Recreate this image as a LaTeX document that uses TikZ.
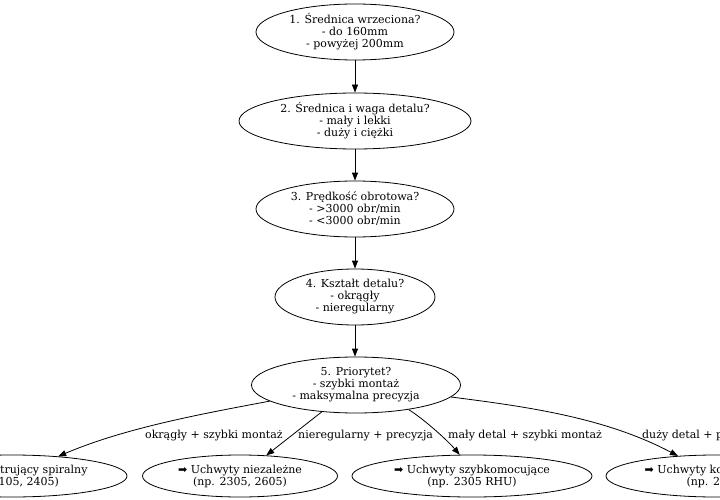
\documentclass[tikz,border=0pt]{standalone}
\usepackage{fontspec}
\setmainfont{DejaVu Serif}
\newfontfamily\arrowfont{DejaVu Sans}
\usetikzlibrary{arrows.meta,shapes.geometric}
\newcommand{\pick}{{\arrowfont ➡}}

\begin{document}
\begin{tikzpicture}[x=1pt,y=-1pt,every node/.style={font=\fontsize{11}{12}\selectfont}]
  \tikzset{
    ask/.style={ellipse,draw,line width=0.8pt,inner sep=0pt,align=center,minimum width=#1,minimum height=56pt},
    chuck/.style={ellipse,draw,line width=0.8pt,inner sep=0pt,align=center,minimum width=#1,minimum height=42pt},
    arr/.style={-{Triangle[length=8pt,width=6pt]},line width=0.8pt},
    lab/.style={anchor=base west,inner sep=0pt}
  }
  \useasboundingbox (0,0) rectangle (720,500);
  \clip (0,0) rectangle (720,500);
  \fill[white] (0,0) rectangle (720,500);
  % questions
  \node[ask=198] (n1) at (355,32) {1. Średnica wrzeciona?\\- do 160mm\\- powyżej 200mm};
  \node[ask=232] (n2) at (355,121) {2. Średnica i waga detalu?\\- mały i lekki\\- duży i ciężki};
  \node[ask=198] (n3) at (355,209) {3. Prędkość obrotowa?\\- >3000 obr/min\\- <3000 obr/min};
  \node[ask=160] (n4) at (355,297) {4. Kształt detalu?\\- okrągły\\- nieregularny};
  \node[ask=209] (n5) at (356,385) {5. Priorytet?\\- szybki montaż\\- maksymalna precyzja};
  % chucks
  \node[chuck=230] (c1) at (12,476) {\pick{} Samocentrujący spiralny\\(np. 2105, 2405)};
  \node[chuck=195] (c2) at (240,476) {\pick{} Uchwyty niezależne\\(np. 2305, 2605)};
  \node[chuck=240] (c3) at (472,476) {\pick{} Uchwyty szybkomocujące\\(np. 2305 RHU)};
  \node[chuck=220] (c4) at (716,476) {\pick{} Uchwyty kombinowane\\(np. 2405)};
  \draw[arr] (n1)--(n2);
  \draw[arr] (n2)--(n3);
  \draw[arr] (n3)--(n4);
  \draw[arr] (n4)--(n4|-n5.north);
  \draw[arr] (n5) .. controls (201,414) and (125,428) .. (c1);
  \draw[arr] (n5)--(c2);
  \draw[arr] (n5.-25) .. controls (425,420) and (447,440) .. (c3.120);
  \draw[arr] (n5) .. controls (530,407) and (606,418) .. (c4);
  \node[lab] (l1) at (145,438) {okrągły + szybki montaż};
  \node[lab] (l2) at (298,438) {nieregularny + precyzja};
  \node[lab] (l3) at (448,438) {mały detal + szybki montaż};
  \node[lab] (l4) at (642,438) {duży detal + precyzja};
\end{tikzpicture}
\end{document}
